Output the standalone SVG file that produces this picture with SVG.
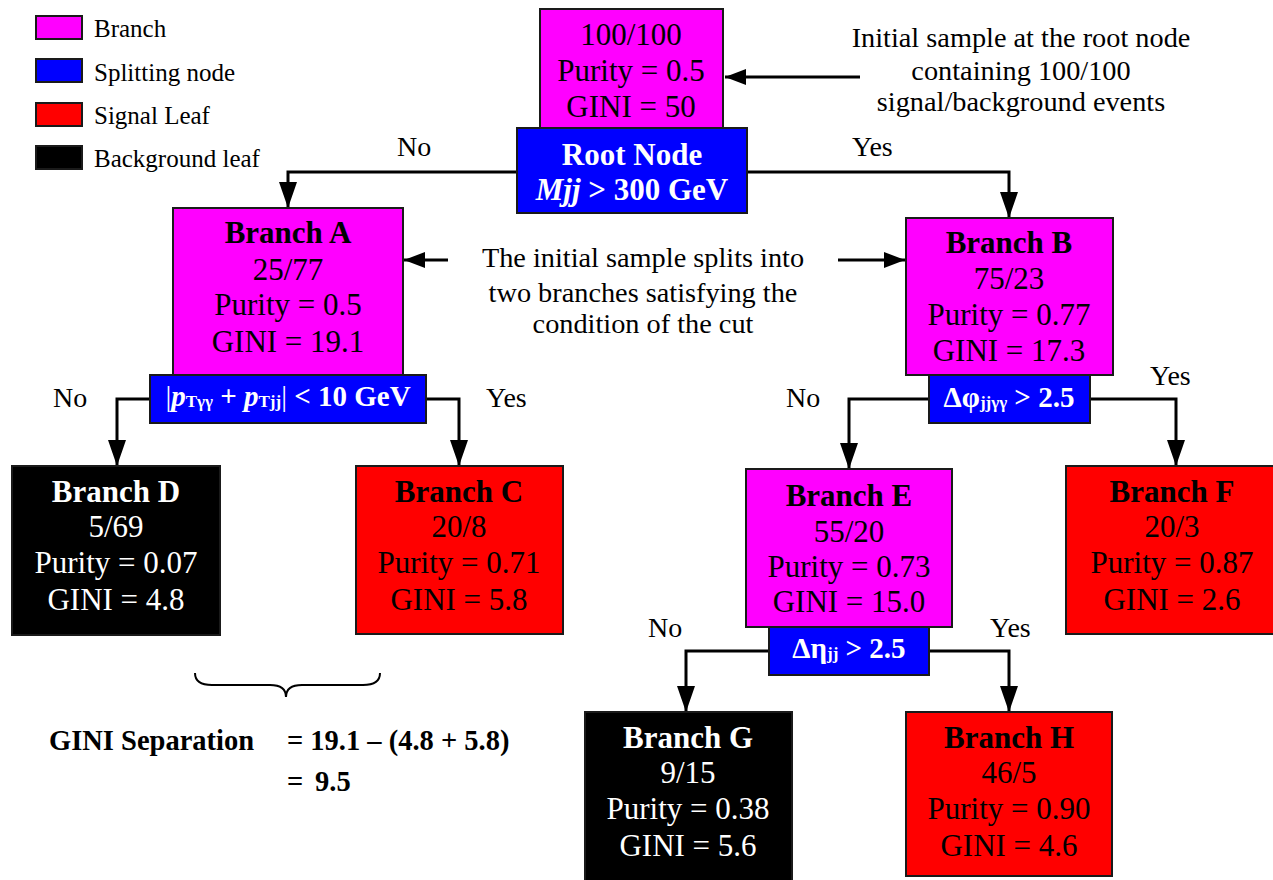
<svg xmlns="http://www.w3.org/2000/svg" width="1273" height="880" viewBox="0 0 1273 880">
<style>
text{font-family:"Liberation Serif","Times New Roman",serif;}
.n{font-size:31px;text-anchor:middle;}
.b{font-weight:bold;}
.w{fill:#fff;}
.ann{font-size:28.3px;text-anchor:middle;}
.lab{font-size:28px;}
.leg{font-size:25px;}
.sp{font-size:29px;font-weight:bold;fill:#fff;text-anchor:middle;}
.sub{font-size:17px;}
.gs{font-size:28.5px;font-weight:bold;}
.box{stroke:#1a1a1a;stroke-width:2;}
.pink{fill:#ff00ff;}
.blue{fill:#0000ff;}
.red{fill:#ff0000;}
.blk{fill:#000;}
.con{fill:none;stroke:#000;stroke-width:3;}
.thin{fill:none;stroke:#000;stroke-width:2;}
</style>
<defs>
<marker id="av" markerUnits="userSpaceOnUse" markerWidth="28" markerHeight="20" refX="26" refY="9" orient="auto" viewBox="0 0 28 20">
<path d="M0,0 L26,9 L0,18 z" fill="#000"/>
</marker>
<marker id="ah" markerUnits="userSpaceOnUse" markerWidth="22" markerHeight="16" refX="21" refY="8" orient="auto" viewBox="0 0 22 16">
<path d="M0,0 L21,8 L0,16 z" fill="#000"/>
</marker>
</defs>
<rect width="1273" height="880" fill="#fff"/>

<g id="legend">
<rect class="box pink" x="36" y="16" width="46" height="23"/>
<rect class="box blue" x="36" y="59" width="46" height="23"/>
<rect class="box red" x="36" y="103" width="46" height="23"/>
<rect class="box blk" x="36" y="146" width="46" height="23"/>
<text class="leg" x="94" y="37">Branch</text>
<text class="leg" x="94" y="81">Splitting node</text>
<text class="leg" x="94" y="124">Signal Leaf</text>
<text class="leg" x="94" y="167">Background leaf</text>
</g>

<g id="connectors">
<polyline class="con" points="517,172 288,172 288,208" marker-end="url(#av)"/>
<polyline class="con" points="747,172 1009,172 1009,218" marker-end="url(#av)"/>
<polyline class="con" points="150,399 117,399 117,466" marker-end="url(#av)"/>
<polyline class="con" points="426,399 459,399 459,466" marker-end="url(#av)"/>
<polyline class="con" points="929,399 849,399 849,469" marker-end="url(#av)"/>
<polyline class="con" points="1090,399 1176,399 1176,466" marker-end="url(#av)"/>
<polyline class="con" points="769,651 686,651 686,712" marker-end="url(#av)"/>
<polyline class="con" points="929,651 1009,651 1009,712" marker-end="url(#av)"/>
<line class="con" x1="860" y1="77" x2="725" y2="77" marker-end="url(#ah)"/>
<line class="con" x1="448" y1="260" x2="404" y2="260" marker-end="url(#ah)"/>
<line class="con" x1="838" y1="260" x2="905" y2="260" marker-end="url(#ah)"/>
</g>

<g id="root">
<rect class="box pink" x="540" y="9" width="183" height="119"/>
<text class="n" x="631" y="45">100/100</text>
<text class="n" x="631" y="81">Purity = 0.5</text>
<text class="n" x="631" y="117">GINI = 50</text>
<rect class="box blue" x="517" y="128" width="230" height="85"/>
<text class="n b w" x="632" y="165">Root Node</text>
<text class="n b w" x="632" y="200"><tspan font-style="italic">Mjj</tspan> &gt; 300 GeV</text>
</g>

<g id="branchA">
<rect class="box pink" x="173" y="208" width="230" height="167"/>
<text class="n b" x="288" y="243">Branch A</text>
<text class="n" x="288" y="280">25/77</text>
<text class="n" x="288" y="315">Purity = 0.5</text>
<text class="n" x="288" y="352">GINI = 19.1</text>
</g>
<g id="splitA">
<rect class="box blue" x="150" y="375" width="276" height="48"/>
<text class="sp" x="288" y="406"><tspan font-weight="normal">|</tspan><tspan font-style="italic">p</tspan><tspan class="sub" dy="1">Tγγ</tspan><tspan dy="-1"> + </tspan><tspan font-style="italic">p</tspan><tspan class="sub" dy="1">Tjj</tspan><tspan dy="-1" font-weight="normal">|</tspan> &lt; 10 GeV</text>
</g>

<g id="branchB">
<rect class="box pink" x="906" y="218" width="207" height="157"/>
<text class="n b" x="1009" y="253">Branch B</text>
<text class="n" x="1009" y="289">75/23</text>
<text class="n" x="1009" y="325">Purity = 0.77</text>
<text class="n" x="1009" y="361">GINI = 17.3</text>
</g>
<g id="splitB">
<rect class="box blue" x="929" y="375" width="161" height="48"/>
<text class="sp" x="1009" y="407">Δφ<tspan class="sub" dy="1">jjγγ</tspan><tspan dy="-1"> &gt; 2.5</tspan></text>
</g>

<g id="branchD">
<rect class="box blk" x="12" y="466" width="208" height="169"/>
<text class="n b w" x="116" y="502">Branch D</text>
<text class="n w" x="116" y="537">5/69</text>
<text class="n w" x="116" y="573">Purity = 0.07</text>
<text class="n w" x="116" y="610">GINI = 4.8</text>
</g>

<g id="branchC">
<rect class="box red" x="356" y="466" width="207" height="168"/>
<text class="n b" x="459" y="502">Branch C</text>
<text class="n" x="459" y="537">20/8</text>
<text class="n" x="459" y="573">Purity = 0.71</text>
<text class="n" x="459" y="610">GINI = 5.8</text>
</g>

<g id="branchE">
<rect class="box pink" x="746" y="469" width="206" height="158"/>
<text class="n b" x="849" y="506">Branch E</text>
<text class="n" x="849" y="542">55/20</text>
<text class="n" x="849" y="577">Purity = 0.73</text>
<text class="n" x="849" y="612">GINI = 15.0</text>
</g>
<g id="splitE">
<rect class="box blue" x="769" y="627" width="160" height="48"/>
<text class="sp" x="849" y="658">Δη<tspan class="sub" dy="1">jj</tspan><tspan dy="-1"> &gt; 2.5</tspan></text>
</g>

<g id="branchF">
<rect class="box red" x="1066" y="466" width="210" height="168"/>
<text class="n b" x="1172" y="502">Branch F</text>
<text class="n" x="1172" y="537">20/3</text>
<text class="n" x="1172" y="573">Purity = 0.87</text>
<text class="n" x="1172" y="610">GINI = 2.6</text>
</g>

<g id="branchG">
<rect class="box blk" x="585" y="712" width="207" height="172"/>
<text class="n b w" x="688" y="748">Branch G</text>
<text class="n w" x="688" y="783">9/15</text>
<text class="n w" x="688" y="819">Purity = 0.38</text>
<text class="n w" x="688" y="856">GINI = 5.6</text>
</g>

<g id="branchH">
<rect class="box red" x="906" y="712" width="206" height="164"/>
<text class="n b" x="1009" y="748">Branch H</text>
<text class="n" x="1009" y="783">46/5</text>
<text class="n" x="1009" y="819">Purity = 0.90</text>
<text class="n" x="1009" y="856">GINI = 4.6</text>
</g>

<g id="labels">
<text class="lab" x="397" y="156">No</text>
<text class="lab" x="852" y="156">Yes</text>
<text class="lab" x="53" y="407">No</text>
<text class="lab" x="486" y="407">Yes</text>
<text class="lab" x="786" y="407">No</text>
<text class="lab" x="1150" y="385">Yes</text>
<text class="lab" x="648" y="637">No</text>
<text class="lab" x="990" y="637">Yes</text>
</g>

<g id="annotations">
<text class="ann" x="1021" y="47">Initial sample at the root node</text>
<text class="ann" x="1021" y="80">containing 100/100</text>
<text class="ann" x="1021" y="111">signal/background events</text>
<text class="ann" x="643" y="267">The initial sample splits into</text>
<text class="ann" x="643" y="302">two branches satisfying the</text>
<text class="ann" x="643" y="333">condition of the cut</text>
</g>

<g id="gini">
<path class="thin" d="M195,673 Q195,685 212,685 L270,685 Q286,685 286,697 Q286,685 302,685 L363,685 Q380,685 380,673"/>
<text class="gs" x="49" y="750">GINI Separation</text>
<text class="gs" x="287" y="750">= 19.1 – (4.8 + 5.8)</text>
<text class="gs" x="287" y="791">=</text>
<text class="gs" x="315" y="791">9.5</text>
</g>
</svg>
